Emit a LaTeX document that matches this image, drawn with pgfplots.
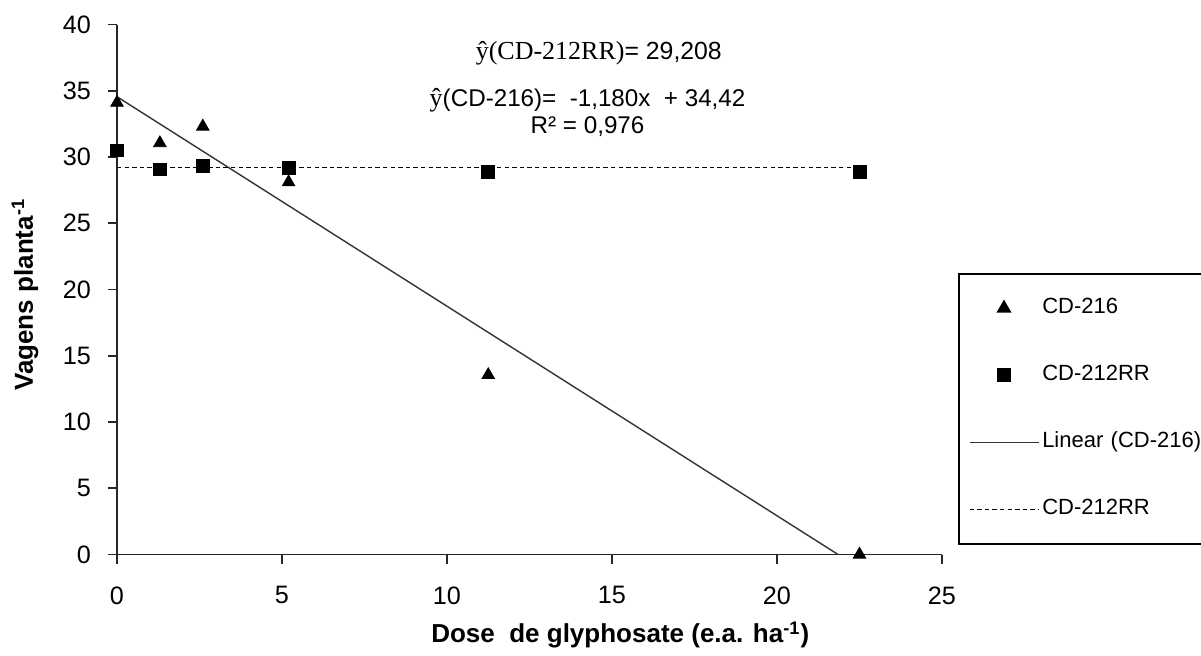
\documentclass[border=0pt]{standalone}
\usepackage{fontspec}
\setmainfont{Liberation Sans}
\newfontfamily\seriffont{Liberation Serif}
\usepackage{pgfplots}
\pgfplotsset{compat=1.18}
\pgfplotsset{
  markleg/.style={legend image code/.code={\path (0pt,0pt) (34.5pt,0pt); \draw[##1] plot coordinates {(17.25pt,0pt)};}},
  lineleg/.style={legend image code/.code={\draw[##1] (0pt,0pt) -- (34.5pt,0pt);}},
}
\begin{document}
\begin{tikzpicture}
\begin{axis}[
  scale only axis, width=412.5pt, height=265pt,
  at={(0,0)}, anchor=south west,
  xmin=0, xmax=25, ymin=0, ymax=40,
  axis lines=left, axis line style={-, line width=0.9pt, black!85},
  xtick={0,5,...,25}, ytick={0,5,...,40},
  tick align=outside, major tick length=4.5pt,
  tick style={line width=0.9pt, black!85},
  ticklabel style={font=\fontsize{12.6}{14}\selectfont},
  /pgf/number format/assume math mode=true,
  xticklabel style={yshift=-8pt},
  yticklabel style={xshift=-5pt},
  xlabel={Dose\ \ de glyphosate (e.a. ha\textsuperscript{-1})},
  ylabel={Vagens planta\textsuperscript{-1}},
  x label style={at={(axis description cs:0.61,-0.152)}, anchor=center, font=\bfseries\fontsize{13}{15}\selectfont},
  y label style={at={(axis description cs:-0.1115,0.49)}, anchor=center, font=\bfseries\fontsize{13}{15}\selectfont},
  clip=false,
  legend cell align=left,
  legend style={at={(rel axis cs:1.0194,0.531)}, anchor=north west,
    draw=black, line width=0.75pt, inner xsep=5pt, inner ysep=12pt,
    row sep=23pt, column sep=0pt,
    font=\fontsize{11}{13}\selectfont,
    nodes={text height=8pt, text depth=2.5pt, inner ysep=0pt, inner xsep=1.5pt, text width=82pt, align=left}},
]
\addplot[only marks, mark=triangle*, mark size=3.6pt, black, markleg]
  coordinates {(0,34.1) (1.3,31.05) (2.6,32.3) (5.2,28.1) (11.25,13.55) (22.5,0.0)};
\addlegendentry{CD-216}
\addplot[only marks, mark=square*, mark size=3.2pt, black, markleg]
  coordinates {(0,30.5) (1.3,29.07) (2.6,29.35) (5.2,29.15) (11.25,28.87) (22.5,28.87)};
\addlegendentry{CD-212RR}
\addplot[no marks, black!80, line width=0.7pt, lineleg]
  coordinates {(0,34.55) (21.85,0)};
\addlegendentry{Linear (CD-216)}
\addplot[no marks, black, line width=0.7pt, dash pattern=on 2.2pt off 1.6pt, lineleg]
  coordinates {(0,29.208) (22.5,29.208)};
\addlegendentry{CD-212RR}
\node[anchor=center, font=\fontsize{12.4}{14}\selectfont] at (axis cs:14.6,37.85)
  {{\seriffont\fontsize{13}{15}\selectfont ŷ(CD-212RR)}= 29,208};
\node[anchor=center, font=\fontsize{12.1}{14}\selectfont] at (axis cs:14.26,34.3)
  {{\seriffont\fontsize{13}{15}\selectfont ŷ}(CD-216)= \ -1,180x \ + 34,42};
\node[anchor=center, font=\fontsize{12.1}{14}\selectfont] at (axis cs:14.26,32.26)
  {R² = 0,976};
\end{axis}
\pgfresetboundingbox
\path[use as bounding box] (-58.5pt,-50.25pt) rectangle (542pt,277.25pt);
\end{tikzpicture}
\end{document}
